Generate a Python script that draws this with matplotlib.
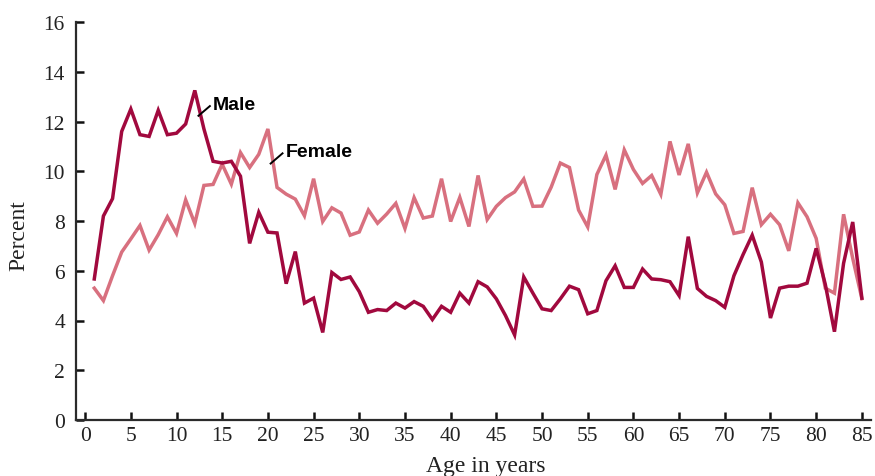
import matplotlib
matplotlib.use("Agg")
import matplotlib.pyplot as plt

# Age in years (single years of age)
ages = list(range(1, 86))

# Percent, by age
male = [5.67, 8.2, 8.9, 11.6, 12.5, 11.47, 11.4, 12.45, 11.47, 11.53,
        11.9, 13.25, 11.7, 10.4, 10.33, 10.4, 9.8, 7.1, 8.35, 7.55,
        7.52, 5.48, 6.77, 4.7, 4.9, 3.52, 5.93, 5.65, 5.75, 5.16,
        4.33, 4.44, 4.4, 4.7, 4.5, 4.76, 4.57, 4.04, 4.57, 4.33,
        5.1, 4.7, 5.56, 5.35, 4.87, 4.2, 3.42, 5.75, 5.1, 4.47,
        4.4, 4.87, 5.38, 5.24, 4.27, 4.4, 5.6, 6.2, 5.33, 5.33,
        6.07, 5.67, 5.64, 5.56, 5.0, 7.37, 5.29, 4.97, 4.8, 4.53,
        5.8, 6.65, 7.43, 6.35, 4.1, 5.3, 5.38, 5.38, 5.5, 6.9,
        5.45, 3.55, 6.3, 7.96, 4.9]

female = [5.3, 4.8, 5.8, 6.75, 7.28, 7.82, 6.83, 7.45, 8.17, 7.5,
          8.85, 7.9, 9.43, 9.47, 10.28, 9.48, 10.75, 10.15, 10.68, 11.7,
          9.35, 9.08, 8.88, 8.21, 9.7, 7.98, 8.53, 8.32, 7.43, 7.56,
          8.44, 7.91, 8.28, 8.71, 7.7, 8.94, 8.12, 8.2, 9.7, 7.98,
          8.95, 7.78, 9.83, 8.06, 8.59, 8.94, 9.17, 9.69, 8.59, 8.6,
          9.36, 10.33, 10.15, 8.44, 7.76, 9.87, 10.65, 9.27, 10.86, 10.07,
          9.51, 9.83, 9.07, 11.2, 9.85, 11.1, 9.13, 9.96, 9.09, 8.65,
          7.5, 7.58, 9.34, 7.85, 8.27, 7.85, 6.8, 8.73, 8.17, 7.3,
          5.3, 5.1, 8.27, 6.5, 4.88]

x_ticks = list(range(0, 90, 5))
y_ticks = list(range(0, 18, 2))

MALE_COLOR = "#a1093e"
FEMALE_COLOR = "#d8707f"
AXIS_COLOR = "#2b2b2b"

W, H = 875, 477
fig = plt.figure(figsize=(W / 100, H / 100), dpi=100)
ax = fig.add_axes([76 / W, (H - 421) / H, 795 / W, 398 / H])

ax.plot(ages, female, color=FEMALE_COLOR, lw=2.5, solid_joinstyle="miter")
ax.plot(ages, male, color=MALE_COLOR, lw=2.5, solid_joinstyle="miter")

ax.set_xlim(-1, 86)
ax.set_ylim(0, 16)
ax.set_xticks(x_ticks)
ax.set_yticks(y_ticks)

for side in ("top", "right"):
    ax.spines[side].set_visible(False)
for side in ("left", "bottom"):
    ax.spines[side].set_color(AXIS_COLOR)
    ax.spines[side].set_linewidth(1.6)

serif = "Liberation Serif"
ax.tick_params(axis="both", direction="in", length=5.5, width=1.8,
               color="#111111", labelcolor="#222222", labelsize=15.5)
ax.tick_params(axis="x", pad=4)
ax.tick_params(axis="y", pad=8)
for lab in ax.get_xticklabels() + ax.get_yticklabels():
    lab.set_fontfamily(serif)

fig.text(486 / W, 1 - 467 / H, "Age in years", family=serif, fontsize=17,
         color="#222222", ha="center", va="center")
fig.text(19 / W, 1 - 236 / H, "Percent", family=serif, fontsize=17,
         color="#222222", ha="center", va="center", rotation=90)

# Series labels with short leader lines
ax.plot([12.4, 13.65], [12.23, 12.62], color="black", lw=1.4)
ax.text(13.95, 12.7, "Male", family="Liberation Sans", fontweight="bold",
        fontsize=14, ha="left", va="center", color="black")
ax.plot([20.3, 21.6], [10.31, 10.72], color="black", lw=1.4)
ax.text(21.95, 10.78, "Female", family="Liberation Sans", fontweight="bold",
        fontsize=14, ha="left", va="center", color="black")

fig.savefig("out.png", dpi=100)
